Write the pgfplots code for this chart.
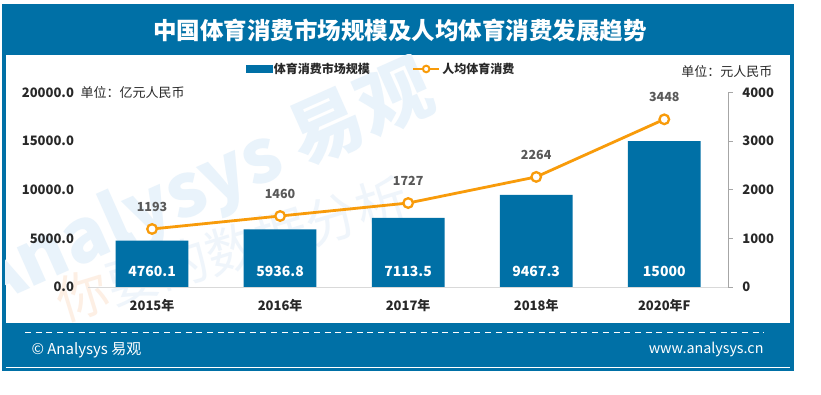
\documentclass[border=0pt]{standalone}
\usepackage{fontspec}
\setmainfont{Noto Sans CJK SC}
\usepackage{pgfplots}
\pgfplotsset{compat=1.18}
\definecolor{mainblue}{RGB}{0,112,166}
\definecolor{lineorange}{RGB}{248,155,10}
\definecolor{lblgray}{RGB}{89,89,89}
\definecolor{tickdark}{RGB}{40,40,40}
\definecolor{axgray}{RGB}{166,166,166}
\definecolor{basegray}{RGB}{217,217,217}
\definecolor{wmblue}{RGB}{233,243,251}
\definecolor{wmblue2}{RGB}{239,245,251}
\definecolor{wmorange}{RGB}{253,239,228}
\begin{document}
\begin{tikzpicture}[x=1pt,y=1pt]
\fill[white] (0,0) rectangle (821,395);
\fill[mainblue] (2,24) rectangle (794,391);
\fill[white] (5.5,72) rectangle (790,340);
\node[white, font=\fontsize{23.5}{26}\selectfont\bfseries] at (400,364.5) {中国体育消费市场规模及人均体育消费发展趋势};
% footer
\draw[white, line width=1.2pt, dash pattern=on 6pt off 4.7pt] (25,62.3) -- (764,62.3);
\node[white, anchor=west, font=\fontsize{15}{17}\selectfont] at (28,45) {© Analysys 易观};
\node[white, anchor=east, font=\fontsize{14.3}{16}\selectfont] at (767,46) {www.analysys.cn};
\draw[white, line width=1pt] (5.7,27.7) -- (790,27.7);
% watermark
\begin{scope}
\clip (5.5,72) rectangle (790,340);
\node[wmblue, rotate=24, font=\fontsize{74}{74}\selectfont\bfseries] at (203,208) {Analysys 易观};
\node[wmblue2, rotate=17, font=\fontsize{52}{52}\selectfont] at (232,146) {\textcolor{wmorange}{你}要的数据分析};
\end{scope}
% bars axis
\begin{axis}[
  at={(88pt,108pt)}, anchor=south west, scale only axis,
  width=640.3pt, height=194.5pt,
  xmin=-0.5, xmax=4.5, ymin=0, ymax=20000,
  axis y line*=left, axis x line*=bottom,
  y axis line style={draw=none},
  x axis line style={basegray, line width=0.9pt, -},
  ytick={0,5000,10000,15000,20000},
  xtick={0,1,2,3,4},
  xticklabels={2015年,2016年,2017年,2018年,2020年F},
  major tick length=0pt,
  scaled y ticks=false,
  yticklabel style={/pgf/number format/fixed, /pgf/number format/fixed zerofill,
    /pgf/number format/precision=1, /pgf/number format/1000 sep={},
    /pgf/number format/assume math mode=true,
    font=\fontsize{13}{15}\selectfont\bfseries, text=tickdark, xshift=-10.5pt},
  xticklabel style={font=\fontsize{13}{15}\selectfont\bfseries, text=tickdark, yshift=-9pt},
  clip=false,
]
\addplot[ybar, bar width=72.7pt, fill=mainblue, draw=none]
  coordinates {(0,4760.1) (1,5936.8) (2,7113.5) (3,9467.3) (4,15000)};
\addplot[draw=none, mark=none, nodes near coords, point meta=explicit symbolic,
  nodes near coords style={anchor=center, text=white, font=\fontsize{14}{16}\selectfont\bfseries}]
  coordinates {(0,1650)[4760.1] (1,1650)[5936.8] (2,1650)[7113.5] (3,1650)[9467.3] (4,1650)[15000]};
\end{axis}
% line axis
\begin{axis}[
  at={(88pt,108pt)}, anchor=south west, scale only axis,
  width=640.3pt, height=194.5pt,
  xmin=-0.5, xmax=4.5, ymin=0, ymax=4000,
  axis x line=none, axis y line*=right,
  y axis line style={axgray, line width=0.8pt, -},
  ytick={0,1000,2000,3000,4000},
  tick align=outside, major tick length=4.5pt,
  tick style={axgray, line width=0.8pt},
  yticklabel style={/pgf/number format/1000 sep={},
    /pgf/number format/assume math mode=true,
    font=\fontsize{13}{15}\selectfont\bfseries, text=tickdark, xshift=6pt},
  clip=false,
  legend columns=2,
  legend style={draw=none, fill=none, at={(axis description cs:0.4576,1.121)}, anchor=center,
    font=\fontsize{12}{14}\selectfont\bfseries, text=tickdark,
    /tikz/every even column/.append style={column sep=40pt}},
  legend cell align=left,
]
\addlegendimage{legend image code/.code={\fill[mainblue] (0pt,-3.6pt) rectangle (26pt,3.6pt);}}
\addlegendentry{体育消费市场规模}
\addplot[lineorange, line width=2.8pt, mark=*, mark size=4.8pt,
  mark options={fill=white, draw=lineorange, line width=2.3pt},
  nodes near coords, point meta=explicit symbolic,
  nodes near coords style={anchor=center, yshift=22pt, text=lblgray, font=\fontsize{12.5}{14}\selectfont\bfseries},
  legend image code/.code={\draw[lineorange, line width=2.5pt] (0pt,0pt) -- (26pt,0pt);
    \draw[lineorange, fill=white, line width=2pt] (13pt,0pt) circle (3.3pt);}]
  coordinates {(0,1193)[1193] (1,1460)[1460] (2,1727)[1727] (3,2264)[2264] (4,3448)[3448]};
\addlegendentry{人均体育消费}
\end{axis}
\node[anchor=west, text=tickdark, font=\fontsize{13}{15}\selectfont] at (77,302) {单位：亿元人民币};
\node[anchor=east, text=tickdark, font=\fontsize{13}{15}\selectfont] at (776,323.3) {单位：元人民币};
\end{tikzpicture}
\end{document}
